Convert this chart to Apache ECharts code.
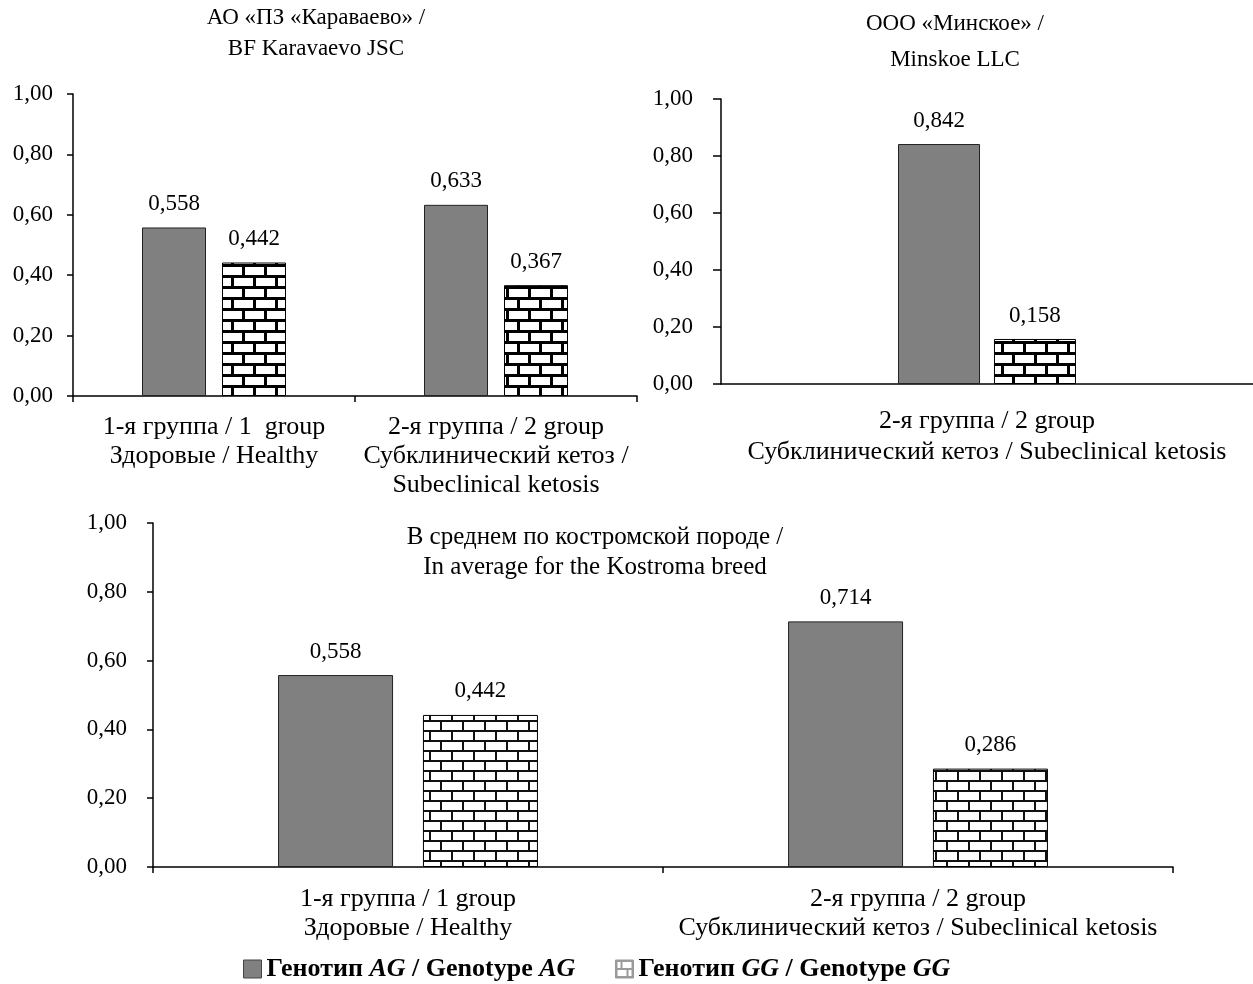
<!DOCTYPE html>
<html><head><meta charset="utf-8">
<script src="https://cdn.jsdelivr.net/npm/echarts@6/dist/echarts.min.js"></script>
<style>html,body{margin:0;padding:0;background:#fff}#c{width:1253px;height:984px}</style>
</head><body><div id="c"></div>
<script>
// ---- data ----
const catsKaravaevo = ['1-я группа / 1  group\nЗдоровые / Healthy', '2-я группа / 2 group\nСубклинический кетоз /\nSubeclinical ketosis'];
const agKaravaevo = [0.558, 0.633];
const ggKaravaevo = [0.442, 0.367];
const catsMinskoe = ['2-я группа / 2 group\nСубклинический кетоз / Subeclinical ketosis'];
const agMinskoe = [0.842];
const ggMinskoe = [0.158];
const catsAverage = ['1-я группа / 1 group\nЗдоровые / Healthy', '2-я группа / 2 group\nСубклинический кетоз / Subeclinical ketosis'];
const agAverage = [0.558, 0.714];
const ggAverage = [0.442, 0.286];
const titleKaravaevo = ['АО «ПЗ «Караваево» /', 'BF Karavaevo JSC'];
const titleMinskoe = ['ООО «Минское» /', 'Minskoe LLC'];
const titleAverage = ['В среднем по костромской породе /', 'In average for the Kostroma breed'];
const seriesAG = 'AG';
const seriesGG = 'GG';

// ---- styling ----
const FONT = '"Liberation Serif", serif';
function brick(w, h, t, mortar) {
  const c = document.createElement('canvas');
  c.width = w; c.height = h;
  const g = c.getContext('2d');
  g.fillStyle = '#fff'; g.fillRect(0, 0, w, h);
  g.fillStyle = mortar;
  const rh = h / 2;
  g.fillRect(0, 0, w, t);
  g.fillRect(0, rh, w, t);
  g.fillRect(0, 0, t, rh);
  g.fillRect(w / 2, rh, t, rh);
  return c;
}
function legendIcon() {
  const c = document.createElement('canvas');
  c.width = 18; c.height = 18;
  const g = c.getContext('2d');
  g.fillStyle = '#fff'; g.fillRect(0, 0, 18, 18);
  g.fillStyle = '#9a9a9a';
  g.fillRect(0, 0, 18, 2); g.fillRect(0, 16, 18, 2);
  g.fillRect(0, 0, 2, 18); g.fillRect(16, 0, 2, 18);
  g.fillRect(0, 8, 18, 2);
  g.fillRect(5, 2, 2, 6); g.fillRect(11, 10, 2, 6);
  return c;
}
const patThick = { image: brick(22, 22, 3, '#000'), repeat: 'repeat' };
const patThin = { image: brick(22, 20, 2, '#111'), repeat: 'repeat' };
const patLegend = { image: legendIcon(), repeat: 'no-repeat' };
const AGCOLOR = '#808080';

const yFmt = v => v.toFixed(2).replace('.', ',');
const lblFmt = p => p.value.toFixed(3).replace('.', ',');

function yAxis(gi, margin, tickLen) {
  return {
    type: 'value', gridIndex: gi, min: 0, max: 1, interval: 0.2,
    splitLine: { show: false },
    axisLine: { show: true, lineStyle: { color: '#000', width: 1.5 } },
    axisTick: { show: true, length: tickLen, lineStyle: { color: '#000', width: 1.5 } },
    axisLabel: { formatter: yFmt, margin: margin, color: '#000', fontFamily: FONT, fontSize: 23 }
  };
}
function xAxis(gi, data, margin, ticks, lh) {
  return {
    type: 'category', gridIndex: gi, data: data,
    axisLine: { show: true, lineStyle: { color: '#000', width: 1.5 } },
    axisTick: { show: ticks, length: 6, lineStyle: { color: '#000', width: 1.5 } },
    axisLabel: { margin: margin, color: '#000', fontFamily: FONT, fontSize: 26, lineHeight: lh, interval: 0 }
  };
}
function bars(gi, ag, gg, bw, gap, pat) {
  const label = { show: true, position: 'top', distance: 12, formatter: lblFmt, color: '#000', fontFamily: FONT, fontSize: 23 };
  return [
    { name: seriesAG, type: 'bar', xAxisIndex: gi, yAxisIndex: gi, data: ag, barWidth: bw, barGap: gap,
      itemStyle: { color: AGCOLOR, borderColor: '#222', borderWidth: 1 }, label: label },
    { name: seriesGG, type: 'bar', xAxisIndex: gi, yAxisIndex: gi, data: gg, barWidth: bw, barGap: gap,
      itemStyle: { color: pat, borderColor: '#000', borderWidth: 1 }, label: label }
  ];
}
function titleText(lines, x, y1, y2, size) {
  return lines.map((t, i) => ({
    type: 'text', x: x, y: i === 0 ? y1 : y2,
    style: { text: t, fill: '#000', font: size + 'px ' + FONT, textAlign: 'center', textVerticalAlign: 'middle' }
  }));
}
const legendText = {
  rich: {
    b: { fontFamily: FONT, fontSize: 26, fontWeight: 'bold', color: '#000' },
    bi: { fontFamily: FONT, fontSize: 26, fontWeight: 'bold', fontStyle: 'italic', color: '#000' }
  }
};
const legendFmt = n => '{b|Генотип }{bi|' + n + '}{b| / Genotype }{bi|' + n + '}';

const chart = echarts.init(document.getElementById('c'), null, { renderer: 'canvas' });
chart.setOption({
  animation: false,
  backgroundColor: '#fff',
  grid: [
    { left: 73, top: 94, width: 564, height: 302 },
    { left: 721, top: 99, width: 532, height: 285 },
    { left: 153, top: 523, width: 1020, height: 344 }
  ],
  xAxis: [xAxis(0, catsKaravaevo, 17, true, 29), xAxis(1, catsMinskoe, 22, false, 31), xAxis(2, catsAverage, 18, true, 29)],
  yAxis: [yAxis(0, 20, 6), yAxis(1, 28, 8), yAxis(2, 26, 6)],
  legend: [
    { left: 238, top: 951, itemWidth: 18, itemHeight: 18, itemGap: 10, icon: 'rect',
      data: [{ name: seriesAG, itemStyle: { color: AGCOLOR, borderColor: '#444', borderWidth: 1 } }],
      formatter: legendFmt, textStyle: legendText },
    { left: 610, top: 951, itemWidth: 18, itemHeight: 18, itemGap: 10, icon: 'rect',
      data: [{ name: seriesGG, itemStyle: { color: patLegend, borderColor: '#999', borderWidth: 1 } }],
      formatter: legendFmt, textStyle: legendText }
  ],
  graphic: [].concat(
    titleText(titleKaravaevo, 316, 18, 49, 23),
    titleText(titleMinskoe, 955, 24, 60, 23),
    titleText(titleAverage, 595, 537, 567, 25)
  ),
  series: [].concat(
    bars(0, agKaravaevo, ggKaravaevo, 64, '25%', patThick),
    bars(1, agMinskoe, ggMinskoe, 82, '17%', patThick),
    bars(2, agAverage, ggAverage, 115, '26%', patThin)
  )
});
</script></body></html>
